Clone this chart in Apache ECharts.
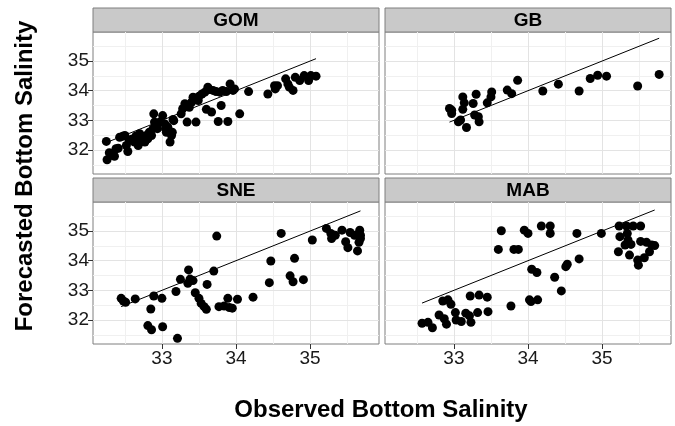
<!DOCTYPE html>
<html><head><meta charset="utf-8">
<script src="https://cdn.jsdelivr.net/npm/echarts@6/dist/echarts.min.js"></script>
<style>html,body{margin:0;padding:0;background:#fff}#c{width:675px;height:426px}</style>
</head><body><div id="c"></div>
<script>
const panelNames = ['GOM', 'GB', 'SNE', 'MAB'];

const gomObs = [32.25,32.26,32.29,32.36,32.41,32.43,32.50,32.54,32.52,32.59,32.65,32.68,32.72,32.77,32.79,32.83,32.88,32.89,32.90,32.92,33.01,33.04,33.06,33.08,33.11,33.14,33.15,33.26,33.31,33.34,33.37,33.42,33.46,33.49,33.54,33.60,33.62,33.67,33.69,33.76,33.80,33.82,33.89,33.92,33.96,34.05,
  32.32,32.38,32.47,32.56,32.63,32.70,32.74,32.81,32.86,32.94,32.97,33.05,33.13,33.16,33.28,33.33,33.40,33.44,33.50,33.58,33.64,33.73,33.78,33.87,33.98,
  34.17,34.43,34.52,34.53,34.56,34.67,34.70,34.72,34.77,34.80,34.86,34.92,34.98,35.01,35.08];
const gomFc = [32.29,31.67,31.91,31.79,32.06,32.43,32.49,31.95,32.15,32.36,32.47,32.15,32.38,32.27,32.49,32.60,32.72,33.22,32.94,32.83,33.16,32.88,32.60,32.77,32.27,32.60,33.03,33.22,33.56,32.94,33.44,33.78,32.94,33.67,33.89,33.37,34.12,33.28,34.01,32.96,33.50,34.01,32.96,34.23,34.01,33.22,
  31.82,32.04,32.46,32.32,32.27,32.55,32.32,32.38,32.49,32.72,32.94,32.72,32.49,32.99,33.39,33.50,33.61,33.72,33.81,33.95,34.04,33.97,33.95,33.97,34.06,
  33.97,33.89,34.17,34.06,34.17,34.40,34.23,34.12,34.01,34.45,34.34,34.51,34.34,34.51,34.49];

const gbObs = [32.94,32.97,32.97,33.06,33.09,33.12,33.14,33.12,33.17,33.26,33.28,33.30,33.33,33.34,33.45,33.50,33.51,33.72,33.78,33.86,34.20,34.41,34.69,34.84,34.94,35.06,35.48,35.77];
const gbFc  = [33.40,33.23,33.34,32.95,33.01,33.79,33.59,33.37,32.76,33.57,33.18,33.88,33.12,32.95,33.59,33.79,33.96,34.02,33.90,34.35,33.99,34.22,33.99,34.41,34.52,34.49,34.16,34.55];

const sneObs = [32.45,32.48,32.51,32.64,32.85,32.81,32.86,32.89,33.00,33.01,33.19,33.21,33.25,33.36,33.35,33.38,33.42,33.45,33.50,33.53,33.57,33.60,33.61,33.70,33.74,33.77,33.84,33.89,33.91,33.95,34.02,
  34.23,34.45,34.47,34.61,34.73,34.77,34.79,34.91,35.03,35.22,35.28,35.29,35.34,35.43,35.48,35.51,35.54,35.60,35.64,35.67,35.68,35.66,35.68];
const sneFc  = [32.73,32.64,32.60,32.71,32.37,31.81,31.67,32.81,32.73,31.77,32.96,31.38,33.37,33.69,33.24,33.38,33.33,32.92,32.73,32.56,32.45,32.36,33.20,33.65,34.83,32.45,32.47,32.73,32.42,32.40,32.70,
  32.77,33.26,33.99,34.92,33.49,33.29,34.08,33.36,34.70,35.09,34.92,34.75,34.86,35.03,34.64,34.44,34.95,34.86,34.33,35.03,34.86,34.62,34.75];

const mabObs = [32.57,32.65,32.71,32.80,32.85,32.87,32.90,32.92,32.96,33.02,33.03,33.10,33.16,33.21,33.22,33.23,33.32,33.34,33.45,33.46,33.60,33.64,33.77,33.81,33.87,33.95,34.00,34.02,34.05,
  34.12,34.04,34.13,34.18,34.30,34.30,34.36,34.45,34.51,34.53,34.66,34.69,34.99,35.22,35.23,35.24,35.31,35.33,35.34,35.35,35.37,35.39,35.42,35.48,35.49,35.52,35.52,35.57,35.60,35.64,35.67,35.71];
const mabFc  = [31.89,31.92,31.74,32.17,32.64,32.04,31.86,32.68,32.53,32.25,32.00,31.95,32.23,32.14,32.81,31.92,32.25,32.84,32.77,32.28,34.38,35.01,32.47,34.38,34.38,35.03,34.92,32.68,33.71,
  33.60,32.62,32.68,35.17,35.17,34.92,33.44,32.98,33.80,33.88,34.92,34.06,34.92,34.30,35.17,34.81,34.53,35.17,34.92,34.70,34.19,34.55,35.17,34.02,33.85,35.17,34.65,34.10,34.62,34.30,34.53,34.51];

const xTicks = [33, 34, 35];
const yTicks = [32, 33, 34, 35];
const xMinor = [32.5, 33.5, 34.5, 35.5];
const yMinor = [31.5, 32.5, 33.5, 34.5, 35.5];
const xRange = [32.07, 35.93];
const yRange = [31.19, 35.98];

const panels = [[gomObs, gomFc], [gbObs, gbFc], [sneObs, sneFc], [mabObs, mabFc]];

const FONT = 'Liberation Sans, Arial, Helvetica, sans-serif';
const gridPos = [
  {left: 93, top: 32}, {left: 385, top: 32},
  {left: 93, top: 202}, {left: 385, top: 202}
];
const W = 286, H = 142, STRIP = 24;

const grids = gridPos.map(p => ({
  left: p.left, top: p.top, width: W, height: H,
  show: true, backgroundColor: '#fff', borderColor: '#7f7f7f', borderWidth: 1
}));

const xAxes = gridPos.map((p, i) => ({
  type: 'value', gridIndex: i, min: xRange[0], max: xRange[1],
  axisLine: {show: false},
  splitLine: {show: false},
  axisTick: {show: i >= 2, length: 5, lineStyle: {color: '#333'}, customValues: xTicks},
  axisLabel: {show: i >= 2, customValues: xTicks, fontSize: 19, color: '#1a1a1a', fontFamily: FONT, margin: 5}
}));
const yAxes = gridPos.map((p, i) => ({
  type: 'value', gridIndex: i, min: yRange[0], max: yRange[1],
  axisLine: {show: false},
  splitLine: {show: false},
  axisTick: {show: i % 2 === 0, length: 5, lineStyle: {color: '#333'}, customValues: yTicks},
  axisLabel: {show: i % 2 === 0, customValues: yTicks, fontSize: 19, color: '#1a1a1a', fontFamily: FONT, margin: 4}
}));

const series = [];
panels.forEach((pd, i) => {
  const [obs, fc] = pd;
  const gridLines = [];
  xMinor.forEach(v => gridLines.push({xAxis: v, lineStyle: {color: '#f0f0f0', width: 1, type: 'solid'}}));
  yMinor.forEach(v => gridLines.push({yAxis: v, lineStyle: {color: '#f0f0f0', width: 1, type: 'solid'}}));
  xTicks.forEach(v => gridLines.push({xAxis: v, lineStyle: {color: '#e3e3e3', width: 1, type: 'solid'}}));
  yTicks.forEach(v => gridLines.push({yAxis: v, lineStyle: {color: '#e3e3e3', width: 1, type: 'solid'}}));
  series.push({
    type: 'line', xAxisIndex: i, yAxisIndex: i, data: [], silent: true, z: 1,
    markLine: {silent: true, symbol: ['none', 'none'], animation: false, label: {show: false}, data: gridLines}
  });
  series.push({
    type: 'scatter', xAxisIndex: i, yAxisIndex: i, z: 10,
    symbolSize: 9, itemStyle: {color: '#000', opacity: 1},
    data: obs.map((x, k) => [x, fc[k]]), animation: false
  });
  const lo = Math.min(...obs), hi = Math.max(...obs);
  series.push({
    type: 'line', xAxisIndex: i, yAxisIndex: i, z: 11,
    data: [[lo, lo], [hi, hi]], symbol: 'none',
    lineStyle: {color: '#000', width: 1}, animation: false
  });
});

const graphics = [];
gridPos.forEach((p, i) => {
  graphics.push({
    type: 'rect', shape: {x: p.left, y: p.top - STRIP, width: W, height: STRIP},
    style: {fill: '#c9c9c9', stroke: '#7f7f7f', lineWidth: 1}, z: 5
  });
  graphics.push({
    type: 'text', x: p.left + W / 2, y: p.top - STRIP / 2 + 1,
    style: {text: panelNames[i], font: 'bold 19px ' + FONT, fill: '#000', textAlign: 'center', textVerticalAlign: 'middle'}, z: 6
  });
});
graphics.push({
  type: 'text', x: 381, y: 410,
  style: {text: 'Observed Bottom Salinity', font: 'bold 24px ' + FONT, fill: '#000', textAlign: 'center', textVerticalAlign: 'middle'}
});
graphics.push({
  type: 'text', x: 25, y: 176, rotation: Math.PI / 2,
  style: {text: 'Forecasted Bottom Salinity', font: 'bold 24px ' + FONT, fill: '#000', textAlign: 'center', textVerticalAlign: 'middle'}
});

const chart = echarts.init(document.getElementById('c'), null, {renderer: 'canvas'});
chart.setOption({
  backgroundColor: '#fff',
  animation: false,
  grid: grids, xAxis: xAxes, yAxis: yAxes, series: series, graphic: graphics
});
</script>
</body></html>
